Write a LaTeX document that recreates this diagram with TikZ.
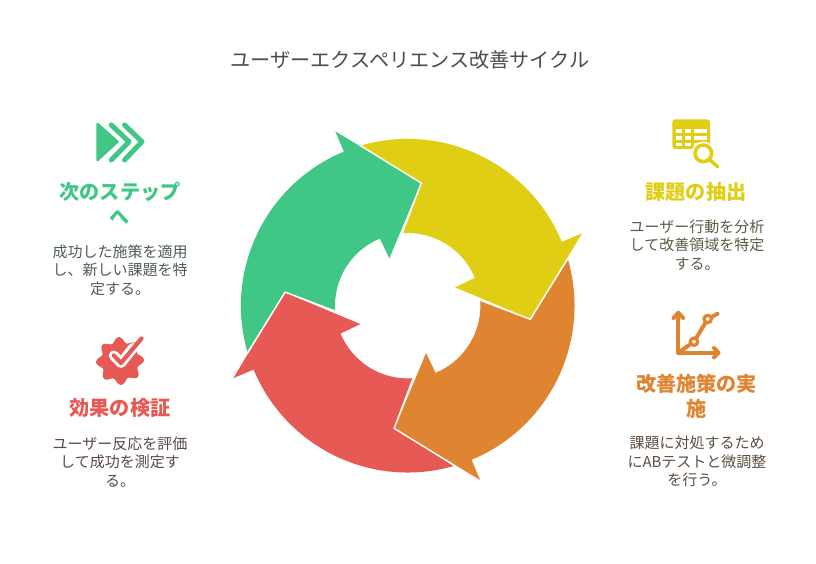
\documentclass[tikz,border=0pt]{standalone}
\usepackage{fontspec}
\setmainfont{Noto Sans CJK JP}
\definecolor{cy}{HTML}{E0CE15}
\definecolor{co}{HTML}{DF8430}
\definecolor{cr}{HTML}{E65955}
\definecolor{cg}{HTML}{40C785}
\definecolor{ty}{HTML}{5C5B45}
\definecolor{to}{HTML}{5C4F42}
\definecolor{tr}{HTML}{5C4848}
\definecolor{tg}{HTML}{4F5C55}
\tikzset{
  titletext/.style={font=\fontsize{20.15}{24}\selectfont,text=black!70,inner sep=0pt},
  headtext/.style={font=\fontsize{20.15}{25}\selectfont\bfseries,align=center,inner sep=0pt},
  bodytext/.style={font=\fontsize{15}{18.6}\selectfont,align=center,inner sep=0pt},
  icon/.style={line cap=round,line join=round}
}
\begin{document}
\begin{tikzpicture}[x=1pt,y=-1pt]
\useasboundingbox (0,0) rectangle (816,564);
\fill[white] (0,0) rectangle (816,564);
% ring
\foreach \a/\c in {0/cy,-90/co,-180/cr,-270/cg}{
  \begin{scope}[shift={(407.7,305.7)},x=1pt,y=1pt,rotate=\a]
    \fill[\c] (105.97:166.8) arc[start angle=105.97,end angle=22.5,radius=166.8]
      -- (174.3,72.4) -- (123,-13.3) -- (47.3,18.4) -- (22.5:72.7)
      arc[start angle=22.5,end angle=94.7,radius=72.7] -- (13.3,123) -- cycle;
  \end{scope}
}
\foreach \a in {0,-90,-180,-270}{
  \begin{scope}[shift={(407.7,305.7)},x=1pt,y=1pt,rotate=\a]
    \draw[white,line width=1.4pt,line join=miter] (-6,71) -- (13.6,122.6) -- (-47.5,160.2);
  \end{scope}
}
% title
\node[titletext] (title) at (410,59.5) {ユーザーエクスペリエンス改善サイクル};
% right top
\node[headtext,text=cy] (h1) at (696,191.5) {課題の抽出};
\node[bodytext,text=ty] (b1) at (697,245) {ユーザー行動を分析\\して改善領域を特定\\する。};
% right bottom
\node[headtext,text=co] (h2) at (696.5,396) {改善施策の実\\施};
\node[bodytext,text=to] (b2) at (697,461.5) {課題に対処するため\\にABテストと微調整\\を行う。};
% left bottom
\node[headtext,text=cr] (h3) at (120,408) {効果の検証};
\node[bodytext,text=tr] (b3) at (120,462) {ユーザー反応を評価\\して成功を測定す\\る。};
% left top
\node[headtext,text=cg] (h4) at (120,203) {次のステップ\\へ};
\node[bodytext,text=tg] (b4) at (120,270) {成功した施策を適用\\し、新しい課題を特\\定する。};
% icon: table and magnifier
\fill[cy,rounded corners=3pt] (672.3,119.3) rectangle (710,149);
\foreach \xa/\xb in {675.5/682,684.5/691,693.5/707}{
  \foreach \ya/\yb in {129/133.5,136/140.5,143/146}{
    \fill[white] (\xa,\ya) rectangle (\xb,\yb);
  }
}
\fill[white] (703.3,153.3) circle[radius=11.8];
\draw[cy,line width=3.6pt,fill=white] (703.3,153.3) circle[radius=8.3];
\draw[cy,line width=3.6pt,icon] (710,160) -- (717.5,166.5);
% icon: chart
\draw[co,line width=4pt,icon] (673.5,318) -- (678.3,312.8) -- (683.1,318);
\draw[co,line width=4pt,icon] (678.3,312.8) -- (678.3,352.7) -- (718.5,352.7);
\draw[co,line width=4pt,icon] (714,348) -- (718.5,352.7) -- (714,357.4);
\draw[co,line width=4pt,icon] (678.3,352.7) -- (694,341.7) -- (707.7,319) -- (717.5,313.8);
\foreach \p in {(694,341.7),(707.7,319)}{
  \draw[co,line width=3.2pt,fill=white] \p circle[radius=3.7];
}
% icon: chevrons
\fill[cg,draw=cg,line width=2.5pt,line join=round] (97.5,124) -- (97.5,160) -- (117.5,141.7) -- cycle;
\draw[cg,line width=5pt,icon] (111.3,125) -- (129,141.7) -- (111.3,160);
\draw[cg,line width=5pt,icon] (124.5,125) -- (142,141.7) -- (124.5,160);
% icon: badge
\fill[cr,smooth,domain=0:360,samples=145] plot ({120+(21.3+2.6*cos(8*\x+22))*cos(\x)},{361+(21.3+2.6*cos(8*\x+22))*sin(\x)}) -- cycle;
\draw[white,line width=10pt,icon] (113.8,355.5) -- (121,363) -- (133,348);
\draw[cr,line width=4.2pt,icon] (113.8,355.5) -- (121,363) -- (141.5,338.5);
\end{tikzpicture}
\end{document}
